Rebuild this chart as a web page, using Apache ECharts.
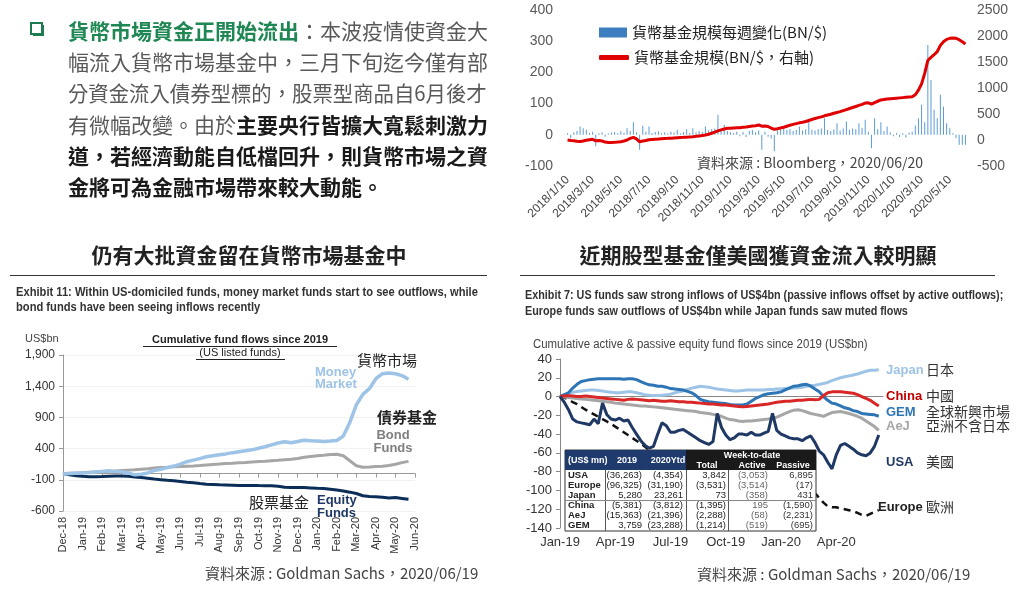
<!DOCTYPE html>
<html>
<head>
<meta charset="utf-8">
<script src="https://cdn.jsdelivr.net/npm/echarts/dist/echarts.min.js"></script>
<style>
html, body { margin: 0; padding: 0; background: #fff; }
#chart { width: 1024px; height: 589px; }
</style>
</head>
<body>
<div id="chart"></div>
<script>
// ---- top right: weekly money fund data (Bloomberg), weeks from 2018/1/10
const weekStart = '2018-01-10';
const mmfWeeklyChange = [
  5, -10, 8, 12, 27, 21, 16, 6, 10, -37,
  5, 8, -6, 4, 7, 9, 5, 11, 6, 21,
  12, 40, 8, -48, 29, 10, 27, 6, 9, 11,
  5, 8, 4, 10, 7, 16, 5, 9, 18, 6,
  21, 8, 12, 10, 27, 14, 18, 20, 64, 15,
  32, 12, 8, 6, 10, -5, 9, -7, 12, 15,
  8, 14, -48, 10, -6, -12, -53, 14, 16, 21,
  15, 18, 12, 15, 27, 14, 18, 43, 16, 14,
  18, 20, 53, 15, 12, 18, 37, 14, 20, 43,
  16, 20, 18, 37, 22, 48, 10, -43, 53, 18,
  40, 12, 27, 8, -5, 6, -7, 5, -9, 7,
  10, 30, 53, 96, 40, 288, 176, 80, 53, 128,
  91, 37, 21, 5, -10, -32, -32, -32
];
const mmfAssets = [
  0, -10, -15, -25, -30, -20, -5, 5, 13, -15,
  -10, -20, -40, -50, -48, -45, -40, -32, -20, 0,
  30, 50, 20, -35, -20, -10, 5, 10, 15, 18,
  25, 30, 32, 35, 40, 45, 50, 52, 55, 60,
  64, 70, 78, 85, 95, 110, 130, 150, 175, 195,
  210, 225, 228, 232, 235, 237, 245, 250, 260, 269,
  275, 288, 265, 270, 260, 230, 205, 215, 230, 245,
  265, 285, 300, 315, 330, 340, 355, 375, 395, 415,
  430, 445, 465, 480, 495, 515, 530, 545, 565, 585,
  605, 625, 645, 665, 685, 710, 715, 692, 720, 745,
  770, 780, 790, 795, 800, 805, 810, 815, 820, 825,
  830, 870, 960, 1080, 1280, 1530, 1590, 1640, 1700, 1820,
  1890, 1935, 1955, 1960, 1955, 1930, 1890, 1846
];
const topTickLabels = ['2018/1/10', '2018/3/10', '2018/5/10', '2018/7/10', '2018/9/10', '2018/11/10',
  '2019/1/10', '2019/3/10', '2019/5/10', '2019/7/10', '2019/9/10', '2019/11/10',
  '2020/1/10', '2020/3/10', '2020/5/10'];

// ---- bottom left: cumulative US fund flows since 2019, 3 points per month
const blMonths = ['Dec-18', 'Jan-19', 'Feb-19', 'Mar-19', 'Apr-19', 'May-19', 'Jun-19', 'Jul-19', 'Aug-19',
  'Sep-19', 'Oct-19', 'Nov-19', 'Dec-19', 'Jan-20', 'Feb-20', 'Mar-20', 'Apr-20', 'May-20', 'Jun-20'];
const moneyMarket = [
  -10, 0, 5, 10, 15, 25, 35, 45, 35, 30,
  10, -20, -10, 10, 50, 70, 95, 120, 150, 190,
  215, 240, 270, 285, 300, 315, 335, 350, 365, 380,
  405, 430, 460, 490, 510, 495, 515, 535, 525, 520,
  515, 520, 530, 600, 820, 1100, 1270, 1360, 1520, 1600,
  1610, 1600, 1570, 1510
];
const bondFunds = [
  0, 5, 10, 15, 20, 25, 30, 35, 40, 48,
  55, 62, 70, 78, 90, 97, 102, 108, 113, 118,
  123, 130, 138, 145, 152, 160, 165, 172, 178, 185,
  192, 198, 205, 212, 220, 228, 240, 262, 275, 285,
  293, 305, 310, 285, 205, 125, 100, 105, 112, 118,
  128, 150, 175, 195
];
const equityFunds = [
  -5, -20, -35, -45, -50, -52, -48, -42, -40, -38,
  -45, -55, -64, -75, -88, -98, -108, -117, -128, -140,
  -148, -160, -170, -175, -180, -182, -186, -190, -192, -190,
  -193, -195, -197, -205, -218, -224, -222, -225, -230, -236,
  -240, -252, -265, -278, -298, -320, -355, -368, -372, -378,
  -392, -385, -398, -412
];

// ---- bottom right: cumulative equity fund flows since 2019 (US$bn), weekly
const brStart = '2019-01-01';
const brTickDates = ['2019-01-01', '2019-04-01', '2019-07-01', '2019-10-01', '2020-01-01', '2020-04-01'];
const brTickLabels = ['Jan-19', 'Apr-19', 'Jul-19', 'Oct-19', 'Jan-20', 'Apr-20'];
const japan = [
  0, 1.5, 3, 4.5, 5.5, 6, 6.5, 7, 7, 6.5,
  6, 5, 4.5, 4, 4, 4.5, 5, 5, 4, 3,
  2, 1.5, 1, 1, 1.5, 2, 2.5, 4, 5, 6,
  7.5, 9, 10, 11, 10.5, 10, 9, 8, 7.5, 7,
  6.5, 6, 6, 6.5, 7, 7, 7, 7, 7, 7.5,
  7.5, 8, 8, 8.5, 9, 9, 9.5, 10, 11, 11.5,
  12, 13, 14, 15, 17, 18.5, 20, 21, 22, 23,
  24, 25.5, 27, 28, 28, 28.5
];
const china = [
  0, 0.5, 1, 0.5, 0, 0, 0.5, 0, -0.5, -1,
  -1.5, -2, -2.5, -3, -3.5, -4, -3, -2.5, -3, -3.5,
  -4, -4.5, -4, -4.5, -5, -5, -4.5, -5, -5.5, -5.5,
  -6, -6, -6.5, -7, -7.5, -8, -8, -8.5, -9, -9,
  -9.5, -10, -10.5, -11, -10.5, -10, -9.5, -9, -8.5, -8,
  -7, -6, -5.5, -5, -5, -4.5, -4, -4, -3.5, -3,
  -3.5, -3, 1, 4, 5, 5, 5, 4.5, 4, 3.5,
  2, 0, -2, -4, -7, -10
];
const gem = [
  0, 2, 4, 9, 13, 16, 17, 18, 18.5, 19,
  19, 19, 19, 19, 19, 18.5, 19, 19, 18, 16,
  14, 12.5, 12, 11, 11, 10, 8.5, 8, 7.5, 7,
  5.5, 4, 1, -3, -4.5, -5.5, -6, -6.5, -7, -7.5,
  -8.5, -9, -9, -9, -8, -5, -2, 0, 2, 3,
  3.5, 4, 5, 7, 9, 11, 11.5, 12.5, 13, 11,
  8, 5, 0, -4, -7, -8, -10, -12, -13, -15,
  -16, -18, -18.5, -19, -19.5, -21
];
const aej = [
  0, -0.5, -1, -1.5, -2, -2.5, -3, -3.5, -4, -4.5,
  -5, -5.5, -6, -7, -7.5, -8, -8.5, -9, -9.5, -10,
  -10, -10.5, -11, -11.5, -12, -12.5, -13, -13.5, -14, -14.5,
  -15, -15.5, -16, -17, -17.5, -18, -19, -20, -21, -23,
  -24.5, -25, -26, -26.5, -26, -26, -25.5, -25, -24.5, -24,
  -23, -22, -20, -18, -16, -14.5, -14, -15, -16.5, -18,
  -19, -20, -21, -19, -17, -16.5, -16, -17, -18, -19.5,
  -21, -23, -26, -29, -32, -36
];
const usa = [
  0, -6, -14, -24, -27, -28, -29, -30, -24, -29,
  -7, -19, -24, -25, -23, -26, -25, -33, -40, -47,
  -52, -55, -53, -40, -28, -31, -38, -38, -36, -35,
  -38, -41, -44, -47, -49, -51, -48, -18, -33, -41,
  -46, -44, -40, -40, -41, -38, -41, -41, -39, -37,
  -18, -36, -40, -42, -44, -45, -45, -47, -44, -42,
  -49, -58, -62, -70, -77, -62, -52, -50, -53, -56,
  -60, -62, -63, -60, -53, -41
];
const europe = [
  0, -1, -3, -6, -8, -11, -14, -16.5, -19, -21.5,
  -24, -26.5, -29, -32, -35, -38, -41, -44, -47, -50,
  -53.5, -57, -60, -62, -64, -66, -68, -70, -72, -74,
  -76, -78, -79, -80, -82, -83, -84, -85, -86, -87,
  -88, -89, -90, -90, -91, -92, -92, -93, -94, -94,
  -95, -95, -96, -97, -98, -99, -99, -100, -101, -102,
  -103, -108, -113, -117, -118, -118, -119, -120, -121, -122,
  -124, -126, -127, -125, -123, -121
];

// ---- inset table (US$ mn)
const tableRows = ['USA', 'Europe', 'Japan', 'China', 'AeJ', 'GEM'];
const table2019 = ['(36,263)', '(96,325)', '5,280', '(5,381)', '(15,363)', '3,759'];
const table2020Ytd = ['(4,354)', '(31,190)', '23,261', '(3,812)', '(21,396)', '(23,288)'];
const tableTotal = ['3,842', '(3,531)', '73', '(1,395)', '(2,288)', '(1,214)'];
const tableActive = ['(3,053)', '(3,514)', '(358)', '195', '(58)', '(519)'];
const tablePassive = ['6,895', '(17)', '431', '(1,590)', '(2,231)', '(695)'];

const LAT = '"Liberation Sans", Arial, sans-serif';
const CJK = '"Noto Sans CJK TC", "Noto Sans CJK SC", sans-serif';
const DAY = 864e5;

function utc(s) {
  const p = s.split(/[-\/]/).map(Number);
  return Date.UTC(p[0], p[1] - 1, p[2]);
}
function weekLabel(start, i) {
  const d = new Date(utc(start) + i * 7 * DAY);
  return d.getUTCFullYear() + '/' + (d.getUTCMonth() + 1) + '/' + d.getUTCDate();
}

const topCats = mmfWeeklyChange.map((_, i) => weekLabel(weekStart, i));
const topTickAt = {};
topTickLabels.forEach(l => { topTickAt[Math.round((utc(l) - utc(weekStart)) / (7 * DAY))] = l; });

const blCats = [];
blMonths.forEach((m, k) => {
  blCats.push(m);
  if (k < blMonths.length - 1) blCats.push(m + '·2', m + '·3');
});

const brCats = [];
for (let i = 0; i <= europe.length; i++) brCats.push(weekLabel(brStart, i));
const brTickAt = {};
brTickDates.forEach((d, k) => { brTickAt[Math.round((utc(d) - utc(brStart)) / (7 * DAY))] = brTickLabels[k]; });

function txt(x, y, text, fill, font, align, extra) {
  return Object.assign({
    type: 'text', x: x, y: y, z: 100,
    style: { text: text, fill: fill, font: font, align: align || 'left', textAlign: align || 'left',
      verticalAlign: 'middle', textVerticalAlign: 'middle' }
  }, extra || {});
}
function hline(x1, x2, y, color, w, z) {
  return { type: 'line', z: z || 100, shape: { x1: x1, y1: y, x2: x2, y2: y }, style: { stroke: color, lineWidth: w || 1 } };
}
function vline(x, y1, y2, color, w) {
  return { type: 'line', z: 101, shape: { x1: x, y1: y1, x2: x, y2: y2 }, style: { stroke: color, lineWidth: w || 1 } };
}

// paragraph (top left)
const paraFont = '21px ' + CJK;
const paraRich = {
  g: { fill: '#1E8753', font: 'bold ' + paraFont },
  n: { fill: '#595959', font: paraFont },
  b: { fill: '#1a1a1a', font: 'bold ' + paraFont }
};
const paraLines = [
  '{g|貨幣市場資金正開始流出}{n|：本波疫情使資金大}',
  '{n|幅流入貨幣市場基金中，三月下旬迄今僅有部}',
  '{n|分資金流入債券型標的，股票型商品自6月後才}',
  '{n|有微幅改變。由於}{b|主要央行皆擴大寬鬆刺激力}',
  '{b|道，若經濟動能自低檔回升，則貨幣市場之資}',
  '{b|金將可為金融市場帶來較大動能。}'
];
const graphics = [
  { type: 'rect', z: 100, shape: { x: 33, y: 25, width: 11, height: 11 }, style: { fill: '#1E7B4F' } },
  { type: 'rect', z: 101, shape: { x: 31, y: 23, width: 11, height: 11 }, style: { fill: '#fff', stroke: '#1E7B4F', lineWidth: 2 } }
];
paraLines.forEach((t, i) => {
  graphics.push({ type: 'text', x: 68, y: 31 + i * 31.2, z: 100, scaleX: i === 2 ? 0.97 : 1,
    style: { text: t, rich: paraRich, verticalAlign: 'middle', textVerticalAlign: 'middle' } });
});

// headings
graphics.push(txt(249, 255, '仍有大批資金留在貨幣市場基金中', '#222', 'bold 21px ' + CJK, 'center'));
graphics.push(txt(758, 255, '近期股型基金僅美國獲資金流入較明顯', '#222', 'bold 21px ' + CJK, 'center'));
graphics.push(hline(10, 487, 275.5, '#333', 1));
graphics.push(hline(520, 995, 275.5, '#333', 1));

// exhibit titles (condensed)
const exFont = 'bold 12px ' + LAT;
graphics.push(txt(16, 293, 'Exhibit 11: Within US-domiciled funds, money market funds start to see outflows, while', '#333', exFont, 'left', { scaleX: 0.93 }));
graphics.push(txt(16, 308, 'bond funds have been seeing inflows recently', '#333', exFont, 'left', { scaleX: 0.93 }));
graphics.push(txt(525, 296, 'Exhibit 7: US funds saw strong inflows of US$4bn (passive inflows offset by active outflows);', '#333', exFont, 'left', { scaleX: 0.9 }));
graphics.push(txt(525, 312, 'Europe funds saw outflows of US$4bn while Japan funds saw muted flows', '#333', exFont, 'left', { scaleX: 0.9 }));

// bottom-left chart texts
graphics.push(txt(240, 340, 'Cumulative fund flows since 2019', '#222', 'bold 11px ' + LAT, 'center'));
graphics.push(hline(143, 337, 346.5, '#222', 1));
graphics.push(txt(240, 353, '(US listed funds)', '#222', '11px ' + LAT, 'center'));
graphics.push(hline(196, 285, 359.5, '#222', 1));
graphics.push(txt(25, 339, 'US$bn', '#444', '11px ' + LAT));
graphics.push(txt(357, 360, '貨幣市場', '#222', '15px ' + CJK));
graphics.push(txt(315, 372, 'Money', '#9DC3E6', 'bold 13px ' + LAT));
graphics.push(txt(315, 384, 'Market', '#9DC3E6', 'bold 13px ' + LAT));
graphics.push(txt(377, 417, '債券基金', '#222', 'bold 15px ' + CJK));
graphics.push(txt(393, 435, 'Bond', '#7F7F7F', 'bold 13px ' + LAT, 'center'));
graphics.push(txt(393, 448, 'Funds', '#7F7F7F', 'bold 13px ' + LAT, 'center'));
graphics.push(txt(249, 502, '股票基金', '#222', '15px ' + CJK));
graphics.push(txt(317, 500, 'Equity', '#1F3864', 'bold 13px ' + LAT));
graphics.push(txt(317, 513, 'Funds', '#1F3864', 'bold 13px ' + LAT));

// bottom-right chart texts
graphics.push(txt(533, 345, 'Cumulative active & passive equity fund flows since 2019 (US$bn)', '#444', '12px ' + LAT, 'left', { scaleX: 0.95 }));
const brNames = [
  ['Japan', '日本', '#9DC3E6', 370],
  ['China', '中國', '#C00000', 396],
  ['GEM', '全球新興市場', '#2E75B6', 412],
  ['AeJ', '亞洲不含日本', '#A6A6A6', 426],
  ['USA', '美國', '#1F3864', 462],
  ['Europe', '歐洲', '#222', 507]
];
brNames.forEach(n => {
  graphics.push(txt(n[0] === 'Europe' ? 878 : 886, n[3], n[0], n[2], 'bold 13px ' + LAT));
  graphics.push(txt(926, n[3], n[1], '#333', '14px ' + CJK));
});

// sources
graphics.push(txt(697, 163, '資料來源 : Bloomberg，2020/06/20', '#444', '14px ' + CJK));
graphics.push(txt(205, 573, '資料來源 : Goldman Sachs，2020/06/19', '#444', '15px ' + CJK));
graphics.push(txt(697, 574, '資料來源 : Goldman Sachs，2020/06/19', '#444', '15px ' + CJK));

// inset table
const tX0 = 565, tX1 = 816, tY0 = 450, tYh = 470, tY1 = 531, rowH = 10;
graphics.push({ type: 'rect', z: 99, shape: { x: tX0, y: tY0, width: tX1 - tX0, height: tY1 - tY0 }, style: { fill: '#fff', stroke: '#333', lineWidth: 1 } });
graphics.push({ type: 'rect', z: 100, shape: { x: tX0, y: tY0, width: 686 - tX0, height: tYh - tY0 }, style: { fill: '#1F3B6E' } });
graphics.push({ type: 'rect', z: 100, shape: { x: 686, y: tY0, width: tX1 - 686, height: tYh - tY0 }, style: { fill: '#1a1a1a' } });
[605, 686, 728].forEach(x => graphics.push(vline(x + 0.5, tYh, tY1, '#555', 1)));
graphics.push(hline(tX0, tX1, tYh + rowH * 3 + 0.5, '#888', 1, 101));
const thFont = 'bold 9px ' + LAT;
graphics.push(txt(568, 461, '(US$ mn)', '#fff', thFont));
graphics.push(txt(627, 461, '2019', '#fff', thFont, 'center'));
graphics.push(txt(668, 461, '2020Ytd', '#fff', thFont, 'center'));
graphics.push(txt(752, 456, 'Week-to-date', '#fff', thFont, 'center'));
graphics.push(txt(707, 466, 'Total', '#fff', thFont, 'center'));
graphics.push(txt(752, 466, 'Active', '#fff', thFont, 'center'));
graphics.push(txt(793, 466, 'Passive', '#fff', thFont, 'center'));
const tdFont = '9.5px ' + LAT;
const tableCols = [[table2019, 642, '#222'], [table2020Ytd, 683, '#222'], [tableTotal, 726, '#222'],
  [tableActive, 768, '#666'], [tablePassive, 813, '#333']];
tableRows.forEach((r, i) => {
  const y = tYh + rowH * i + 5.5;
  graphics.push(txt(568, y, r, '#222', 'bold 9.5px ' + LAT));
  tableCols.forEach(c => graphics.push(txt(c[1], y, c[0][i], c[2], tdFont, 'right')));
});

const axisFont = { fontFamily: LAT };
const plain = v => String(v);
const chart = echarts.init(document.getElementById('chart'));
chart.setOption({
  animation: false,
  backgroundColor: '#fff',
  legend: [
    { orient: 'vertical', left: 594, top: 20, itemWidth: 28, itemHeight: 10, icon: 'rect',
      textStyle: { fontFamily: CJK, fontSize: 15, color: '#222' },
      data: [{ name: '貨幣基金規模每週變化(BN/$)', itemStyle: { color: '#3D7EC0' } }] },
    { orient: 'vertical', left: 594, top: 45, itemWidth: 30, itemHeight: 5, icon: 'roundRect',
      textStyle: { fontFamily: CJK, fontSize: 15, color: '#222' }, data: ['貨幣基金規模(BN/$，右軸)'] }
  ],
  grid: [
    { left: 566, top: 10, width: 401, height: 156, outerBoundsMode: 'none' },
    { left: 63, top: 355, width: 352, height: 156, outerBoundsMode: 'none' },
    { left: 560, top: 359, width: 323, height: 169, outerBoundsMode: 'none' }
  ],
  xAxis: [
    { type: 'category', gridIndex: 0, data: topCats, boundaryGap: true,
      axisLine: { show: false }, axisTick: { show: false }, splitLine: { show: false },
      axisLabel: { interval: i => topTickAt[i] !== undefined, formatter: (v, i) => topTickAt[i] || '',
        rotate: 45, margin: 12, fontSize: 12, color: '#444', ...axisFont } },
    { type: 'category', gridIndex: 1, data: blCats, boundaryGap: false, position: 'bottom',
      axisLine: { show: false, onZero: false }, axisTick: { show: false }, splitLine: { show: false },
      axisLabel: { interval: 2, rotate: 90, margin: 6, fontSize: 11, color: '#333', ...axisFont } },
    { type: 'category', gridIndex: 1, data: blCats, boundaryGap: false, position: 'bottom',
      axisLine: { show: true, onZero: true, lineStyle: { color: '#999', width: 1 } },
      axisTick: { show: true, interval: 2, length: 4, lineStyle: { color: '#999' } },
      axisLabel: { show: false }, splitLine: { show: false } },
    { type: 'category', gridIndex: 2, data: brCats, boundaryGap: false, position: 'bottom',
      axisLine: { show: false, onZero: false }, axisTick: { show: false }, splitLine: { show: false },
      axisLabel: { interval: i => brTickAt[i] !== undefined, formatter: (v, i) => brTickAt[i] || '',
        margin: 8, fontSize: 13, color: '#333', ...axisFont } },
    { type: 'category', gridIndex: 2, data: brCats, boundaryGap: false, position: 'bottom',
      axisLine: { show: true, onZero: true, lineStyle: { color: '#888', width: 1 } },
      axisTick: { show: false }, axisLabel: { show: false }, splitLine: { show: false } }
  ],
  yAxis: [
    { type: 'value', gridIndex: 0, min: -100, max: 400, interval: 100, position: 'left',
      axisLine: { show: false }, axisTick: { show: false }, splitLine: { show: false },
      axisLabel: { margin: 13, fontSize: 14, color: '#595959', formatter: plain, ...axisFont } },
    { type: 'value', gridIndex: 0, min: -500, max: 2500, interval: 500, position: 'right',
      axisLine: { show: false }, axisTick: { show: false }, splitLine: { show: false },
      axisLabel: { margin: 10, fontSize: 14, color: '#595959', formatter: plain, ...axisFont } },
    { type: 'value', gridIndex: 1, min: -600, max: 1900, interval: 500,
      axisLine: { show: true, lineStyle: { color: '#999' } },
      axisTick: { show: true, length: 4, lineStyle: { color: '#999' } },
      splitLine: { show: true, lineStyle: { color: '#f2f2f2' } },
      axisLabel: { margin: 8, fontSize: 12, color: '#333', formatter: v => v.toLocaleString('en-US'), ...axisFont } },
    { type: 'value', gridIndex: 2, min: -140, max: 40, interval: 20,
      axisLine: { show: true, lineStyle: { color: '#888' } },
      axisTick: { show: true, length: 4, lineStyle: { color: '#888' } },
      splitLine: { show: false },
      axisLabel: { margin: 8, fontSize: 13, color: '#333', formatter: plain, ...axisFont } }
  ],
  series: [
    { type: 'bar', name: '貨幣基金規模每週變化(BN/$)', xAxisIndex: 0, yAxisIndex: 0, data: mmfWeeklyChange,
      barWidth: 1, itemStyle: { color: '#5B9BD5' } },
    { type: 'line', name: '貨幣基金規模(BN/$，右軸)', xAxisIndex: 0, yAxisIndex: 1, data: mmfAssets,
      symbol: 'none', lineStyle: { color: '#E00000', width: 3 }, itemStyle: { color: '#E00000' } },

    { type: 'line', name: 'Equity Funds', xAxisIndex: 1, yAxisIndex: 2, data: equityFunds,
      symbol: 'none', lineStyle: { color: '#0B2E59', width: 3 } },
    { type: 'line', name: 'Bond Funds', xAxisIndex: 1, yAxisIndex: 2, data: bondFunds,
      symbol: 'none', lineStyle: { color: '#A6A6A6', width: 3 } },
    { type: 'line', name: 'Money Market', xAxisIndex: 1, yAxisIndex: 2, data: moneyMarket,
      symbol: 'none', lineStyle: { color: '#9DC3E6', width: 3.5 } },

    { type: 'line', name: 'Europe', xAxisIndex: 3, yAxisIndex: 3, data: europe,
      symbol: 'none', lineStyle: { color: '#111', width: 2.5, type: [7, 5] } },
    { type: 'line', name: 'AeJ', xAxisIndex: 3, yAxisIndex: 3, data: aej,
      symbol: 'none', lineStyle: { color: '#A6A6A6', width: 3 } },
    { type: 'line', name: 'Japan', xAxisIndex: 3, yAxisIndex: 3, data: japan,
      symbol: 'none', lineStyle: { color: '#9DC3E6', width: 3 } },
    { type: 'line', name: 'GEM', xAxisIndex: 3, yAxisIndex: 3, data: gem,
      symbol: 'none', lineStyle: { color: '#2E75B6', width: 3 } },
    { type: 'line', name: 'China', xAxisIndex: 3, yAxisIndex: 3, data: china,
      symbol: 'none', lineStyle: { color: '#D92626', width: 3 } },
    { type: 'line', name: 'USA', xAxisIndex: 3, yAxisIndex: 3, data: usa,
      symbol: 'none', lineStyle: { color: '#1F3864', width: 3 } }
  ],
  graphic: { elements: graphics }
});
</script>
</body>
</html>
